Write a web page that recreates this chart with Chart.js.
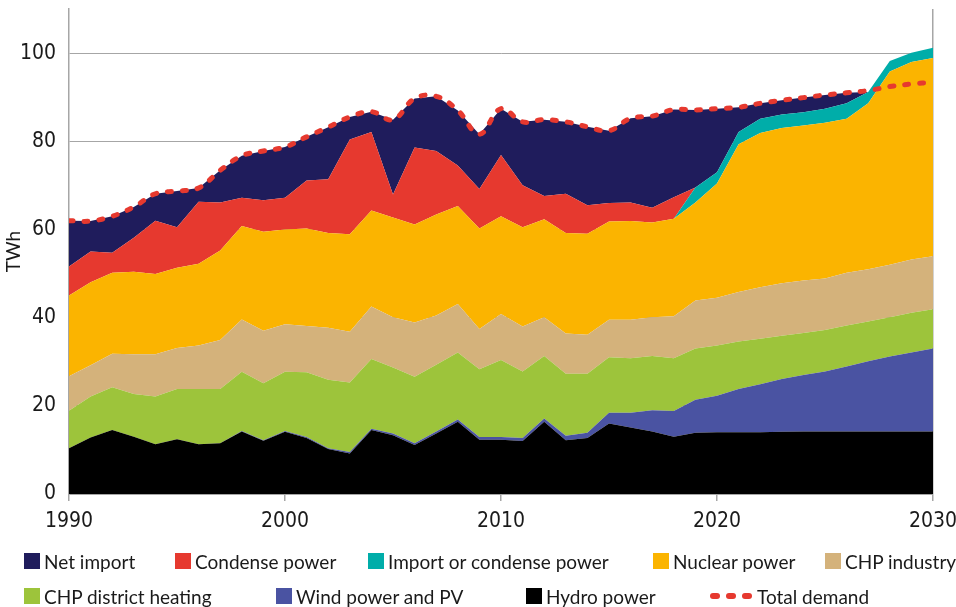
<!DOCTYPE html>
<html lang="en">
  <head>
    <meta charset="UTF-8" />
    <title>Electricity supply and demand</title>
    <script src="https://cdn.jsdelivr.net/npm/chart.js"></script>
    <style>
      body { margin: 0; background: #fff; }
      #wrap { position: relative; width: 956px; height: 607px; }
      #legend { position: absolute; left: 0; top: 0; width: 956px; height: 607px; pointer-events: none; }
      .item { position: absolute; display: flex; align-items: center; height: 16px;
        font-family: Lato, "Open Sans", sans-serif; font-size: 19px; color: #1a1a1a; white-space: nowrap; }
      .box { width: 16px; height: 16px; margin-right: 4px; }
      .dots { display: flex; gap: 6px; margin-right: 5px; }
      .dots span { width: 10px; height: 6px; border-radius: 3px; }
    </style>
  </head>
  <body>
    <div id="wrap">
      <canvas id="chart"></canvas>
      <div id="legend"></div>
    </div>
    <script>
      const years = [];
      for (let y = 1990; y <= 2030; y++) years.push(y);

      // TWh per source, 1990-2030
      const hydro = [10.4, 12.8, 14.5, 13.0, 11.3, 12.4, 11.3, 11.5, 14.2, 12.1,
        14.1, 12.7, 10.2, 9.2, 14.5, 13.3, 11.1, 13.7, 16.4, 12.3,
        12.3, 12.0, 16.4, 12.2, 12.7, 16.0, 15.1, 14.2, 13.0, 13.9,
        14.0, 14.0, 14.0, 14.1, 14.2, 14.2, 14.2, 14.2, 14.2, 14.2, 14.2];
      const wind = [0, 0, 0, 0, 0, 0, 0, 0, 0.1, 0.1,
        0.2, 0.2, 0.2, 0.3, 0.3, 0.4, 0.4, 0.5, 0.5, 0.6,
        0.6, 0.7, 0.7, 1.0, 1.2, 2.4, 3.3, 4.8, 5.8, 7.5,
        8.3, 9.8, 10.9, 12.0, 12.8, 13.6, 14.7, 15.9, 17.0, 17.9, 18.8];
      const chpDistrict = [8.5, 9.3, 9.7, 9.7, 10.8, 11.4, 12.5, 12.3, 13.4, 12.9,
        13.4, 14.7, 15.5, 15.8, 15.8, 15.0, 15.1, 15.1, 15.2, 15.4,
        17.5, 15.1, 14.2, 14.1, 13.4, 12.6, 12.4, 12.3, 12.0, 11.6,
        11.4, 10.8, 10.3, 9.8, 9.5, 9.4, 9.3, 9.0, 8.9, 9.0, 8.9];
      const chpIndustry = [7.8, 7.1, 7.6, 9.0, 9.6, 9.3, 9.9, 11.1, 11.9, 11.9,
        10.8, 10.5, 11.8, 11.5, 11.9, 11.4, 12.3, 11.2, 11.0, 9.1,
        10.4, 10.2, 8.8, 9.1, 8.8, 8.5, 8.7, 8.8, 9.5, 10.9,
        10.8, 11.2, 11.7, 11.9, 11.9, 11.7, 12.0, 11.9, 11.9, 12.1, 12.0];
      const nuclear = [18.3, 18.8, 18.4, 18.7, 18.2, 18.2, 18.5, 20.3, 21.2, 22.5,
        21.5, 22.1, 21.5, 22.1, 21.8, 22.6, 22.2, 22.9, 22.2, 22.8,
        22.2, 22.5, 22.2, 22.8, 22.9, 22.3, 22.4, 21.5, 22.1, 22.2,
        25.9, 33.5, 35.0, 35.2, 35.2, 35.3, 34.9, 37.6, 43.8, 44.8, 45.0];
      const importOrCondense = [0, 0, 0, 0, 0, 0, 0, 0, 0, 0,
        0, 0, 0, 0, 0, 0, 0, 0, 0, 0,
        0, 0, 0, 0, 0, 0, 0, 0, 0, 3.4,
        2.6, 2.8, 3.2, 3.1, 3.0, 3.2, 3.5, 2.6, 2.4, 2.1, 2.3];
      const condense = [6.6, 7.0, 4.5, 7.7, 12.1, 9.2, 14.1, 10.9, 6.4, 7.1,
        7.2, 10.9, 12.2, 21.5, 17.8, 5.2, 17.5, 14.4, 9.2, 9.0,
        13.9, 9.5, 5.3, 8.9, 6.5, 4.2, 4.2, 3.3, 4.9, 0,
        0, 0, 0, 0, 0, 0, 0, 0, 0, 0, 0];
      const netImport = [10.4, 6.9, 8.3, 7.0, 6.1, 8.2, 3.1, 7.3, 9.5, 11.2,
        11.5, 9.9, 11.8, 5.1, 4.6, 17.0, 11.1, 12.4, 12.5, 12.4,
        10.5, 14.4, 17.3, 16.3, 17.8, 16.4, 19.1, 20.8, 19.9, 17.6,
        14.4, 5.6, 3.5, 3.2, 3.3, 3.1, 2.4, 0, 0, 0, 0];
      const totalDemand = [62.0, 61.9, 63.0, 65.1, 68.1, 68.7, 69.4, 73.4, 76.7, 77.8,
        78.7, 81.0, 83.2, 85.5, 86.7, 84.9, 89.7, 90.2, 87.0, 81.6,
        87.4, 84.4, 84.9, 84.4, 83.3, 82.4, 85.2, 85.7, 87.2, 87.1,
        87.4, 87.7, 88.6, 89.3, 89.9, 90.5, 91.0, 91.5, 92.4, 93.0, 93.4];

      const axisGrey = "#a6a6a6";
      const tickFont = "'Liberation Sans Narrow', 'DejaVu Sans Condensed', Roboto, sans-serif";

      function area(label, data, color, fill) {
        return {
          label: label,
          data: data,
          backgroundColor: color,
          borderColor: color,
          borderWidth: 0,
          pointRadius: 0,
          tension: 0,
          fill: fill,
          stack: "supply",
        };
      }

      const datasets = [
        area("Hydro power", hydro, "#000000", "origin"),
        area("Wind power and PV", wind, "#4a53a2", "-1"),
        area("CHP district heating", chpDistrict, "#9dc43b", "-1"),
        area("CHP industry", chpIndustry, "#d4b27b", "-1"),
        area("Nuclear power", nuclear, "#fbb400", "-1"),
        area("Import or condense power", importOrCondense, "#00ada9", "-1"),
        area("Condense power", condense, "#e6392f", "-1"),
        area("Net import", netImport, "#1f1c5c", "-1"),
        {
          label: "Total demand",
          data: totalDemand,
          borderColor: "#e6392f",
          backgroundColor: "#e6392f",
          borderWidth: 5,
          borderDash: [4, 11],
          borderCapStyle: "round",
          pointRadius: 0,
          tension: 0.4,
          fill: false,
          stack: "demand",
          order: -1,
        },
      ];

      const chart = new Chart(document.getElementById("chart"), {
        type: "line",
        data: { labels: years, datasets: datasets },
        options: {
          responsive: true,
          maintainAspectRatio: false,
          animation: false,
          layout: { padding: { left: 0, right: 23, top: 9, bottom: 73 } },
          plugins: { legend: { display: false }, tooltip: { enabled: false } },
          scales: {
            x: {
              type: "linear",
              min: 1990,
              max: 2030,
              afterFit: (s) => {
                s.height = 40;
                s.paddingLeft = 0;
                s.paddingRight = 0;
              },
              border: { color: axisGrey, width: 1.5 },
              grid: {
                drawOnChartArea: true,
                color: (ctx) => (ctx.tick && ctx.tick.value === 2030 ? axisGrey : "transparent"),
                tickColor: axisGrey,
                tickLength: 7,
                lineWidth: 1.5,
              },
              ticks: {
                stepSize: 10,
                padding: 8,
                color: "#1a1a1a",
                font: { family: tickFont, size: 21 },
                callback: (v) => String(v),
              },
            },
            y: {
              stacked: true,
              min: 0,
              max: 110,
              afterFit: (s) => {
                s.width = 69;
                s.paddingTop = 0;
                s.paddingBottom = 0;
              },
              border: { color: axisGrey, width: 1.5 },
              grid: { color: axisGrey, lineWidth: 1, drawTicks: false },
              title: {
                display: true,
                text: "TWh",
                color: "#1a1a1a",
                font: { family: "Lato, 'Open Sans', sans-serif", size: 19 },
                padding: { top: 2, bottom: 2 },
              },
              ticks: {
                stepSize: 20,
                includeBounds: false,
                padding: 13,
                color: "#1a1a1a",
                font: { family: tickFont, size: 21 },
              },
            },
          },
        },
      });

      // legend, laid out like the original two rows
      const legendOrder = ["Net import", "Condense power", "Import or condense power", "Nuclear power",
        "CHP industry", "CHP district heating", "Wind power and PV", "Hydro power", "Total demand"];
      const legendSpots = [[24, 553], [175, 553], [368, 553], [653, 553], [825, 553],
        [24, 588], [276, 588], [526, 588], [710, 588]];
      const legendEl = document.getElementById("legend");
      legendOrder.forEach((name, i) => {
        const ds = chart.data.datasets.find((d) => d.label === name);
        const item = document.createElement("div");
        item.className = "item";
        item.style.left = legendSpots[i][0] + "px";
        item.style.top = legendSpots[i][1] + "px";
        let marker;
        if (ds.stack === "demand") {
          marker = document.createElement("div");
          marker.className = "dots";
          for (let k = 0; k < 3; k++) {
            const d = document.createElement("span");
            d.style.background = ds.borderColor;
            marker.appendChild(d);
          }
        } else {
          marker = document.createElement("div");
          marker.className = "box";
          marker.style.background = ds.backgroundColor;
        }
        item.appendChild(marker);
        const txt = document.createElement("span");
        txt.textContent = name;
        item.appendChild(txt);
        legendEl.appendChild(item);
      });
    </script>
  </body>
</html>
